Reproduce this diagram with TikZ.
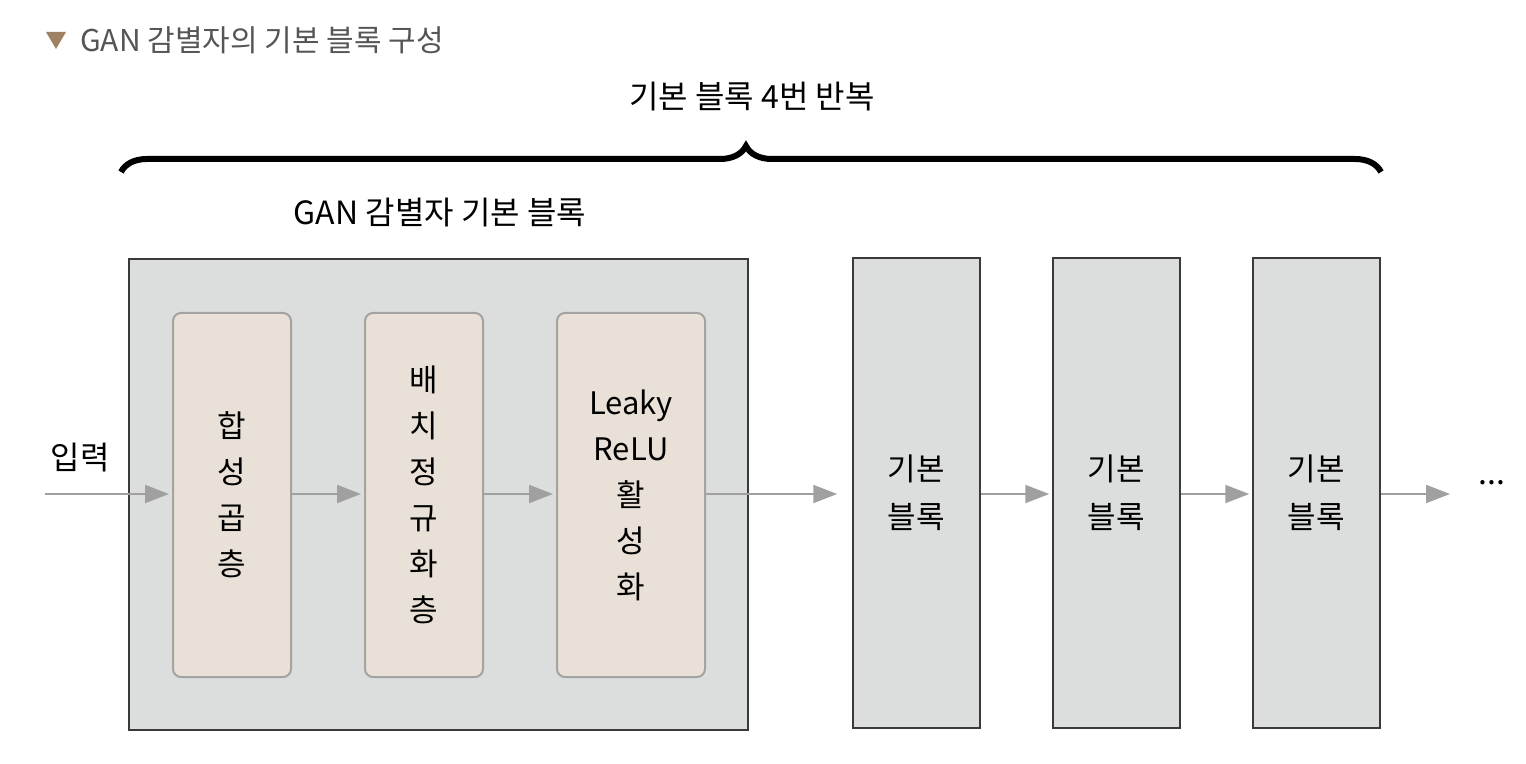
\documentclass[tikz,border=0pt]{standalone}
\usepackage{fontspec}
\setmainfont{Noto Sans CJK KR}
\usetikzlibrary{arrows.meta,decorations.pathreplacing}
\definecolor{boxgray}{HTML}{DCDDDD}
\definecolor{edgedark}{HTML}{3A3A3A}
\definecolor{edgegray}{HTML}{A3A3A3}
\definecolor{layerbeige}{HTML}{E9E1D7}
\definecolor{arrowgray}{HTML}{A0A0A0}
\definecolor{titlegray}{HTML}{555555}
\definecolor{markbrown}{HTML}{9E8263}
\begin{document}
\begin{tikzpicture}[x=0.5pt,y=-0.5pt,
	label/.style={font=\fontsize{16}{23}\selectfont, inner sep=0pt},
	outerbox/.style={draw=edgedark, line width=0.75pt, fill=boxgray},
	layerbox/.style={draw=edgegray, line width=1pt, fill=layerbeige, rounded corners=4pt,
		minimum height=182pt, align=center, font=\fontsize{15.5}{23}\selectfont},
	repbox/.style={outerbox, minimum width=63.5pt, minimum height=235pt, align=center,
		font=\fontsize{15.5}{24}\selectfont},
	flow/.style={draw=arrowgray, line width=1pt, -{Triangle[length=12pt,width=9pt]}, shorten >=1.5pt},
]
	\useasboundingbox (0,0) rectangle (1526,764);
	% title
	\fill[markbrown] (46,32) -- (66,32) -- (56,49) -- cycle;
	\node[anchor=west, inner sep=0pt, text=titlegray, font=\fontsize{15}{17}\selectfont] (title) at (80,40) {GAN 감별자의 기본 블록 구성};
	% brace over the four blocks
	\node[label] (repeat) at (752,97) {기본 블록 4번 반복};
	\draw[decorate, decoration={brace, amplitude=13pt, aspect=0.496}, line width=3pt] (121,172) -- (1381,172);
	% first block, opened up
	\node[label] (blkname) at (440,213) {GAN 감별자 기본 블록};
	\node[outerbox, minimum width=309.5pt, minimum height=235.5pt] (blk) at (438.5,494.5) {};
	\node[layerbox, minimum width=59pt] (conv) at (232,495) {합\\성\\곱\\층};
	\node[layerbox, minimum width=59pt] (bn) at (424,495) {배\\치\\정\\규\\화\\층};
	\node[layerbox, minimum width=74pt] (act) at (631,495) {Leaky\\ReLU\\활\\성\\화};
	% the other blocks
	\node[repbox] (rep1) at (916.5,493) {기본\\블록};
	\node[repbox] (rep2) at (1116.5,493) {기본\\블록};
	\node[repbox] (rep3) at (1316.5,493) {기본\\블록};
	% input and flow
	\node[label] (input) at (80,458) {입력};
	\coordinate (start) at (45,494);
	\coordinate (finish) at (1450,494);
	\node[label, anchor=base] (more) at (1492,485) {...};
	\draw[flow] (start) -- (start -| conv.west);
	\draw[flow] (conv.east |- start) -- (bn.west |- start);
	\draw[flow] (bn.east |- start) -- (act.west |- start);
	\draw[flow, shorten >=7.5pt] (act.east |- start) -- (rep1.west |- start);
	\draw[flow] (rep1.east |- start) -- (rep2.west |- start);
	\draw[flow] (rep2.east |- start) -- (rep3.west |- start);
	\draw[flow, shorten >=0pt] (rep3.east |- start) -- (finish);
\end{tikzpicture}
\end{document}
